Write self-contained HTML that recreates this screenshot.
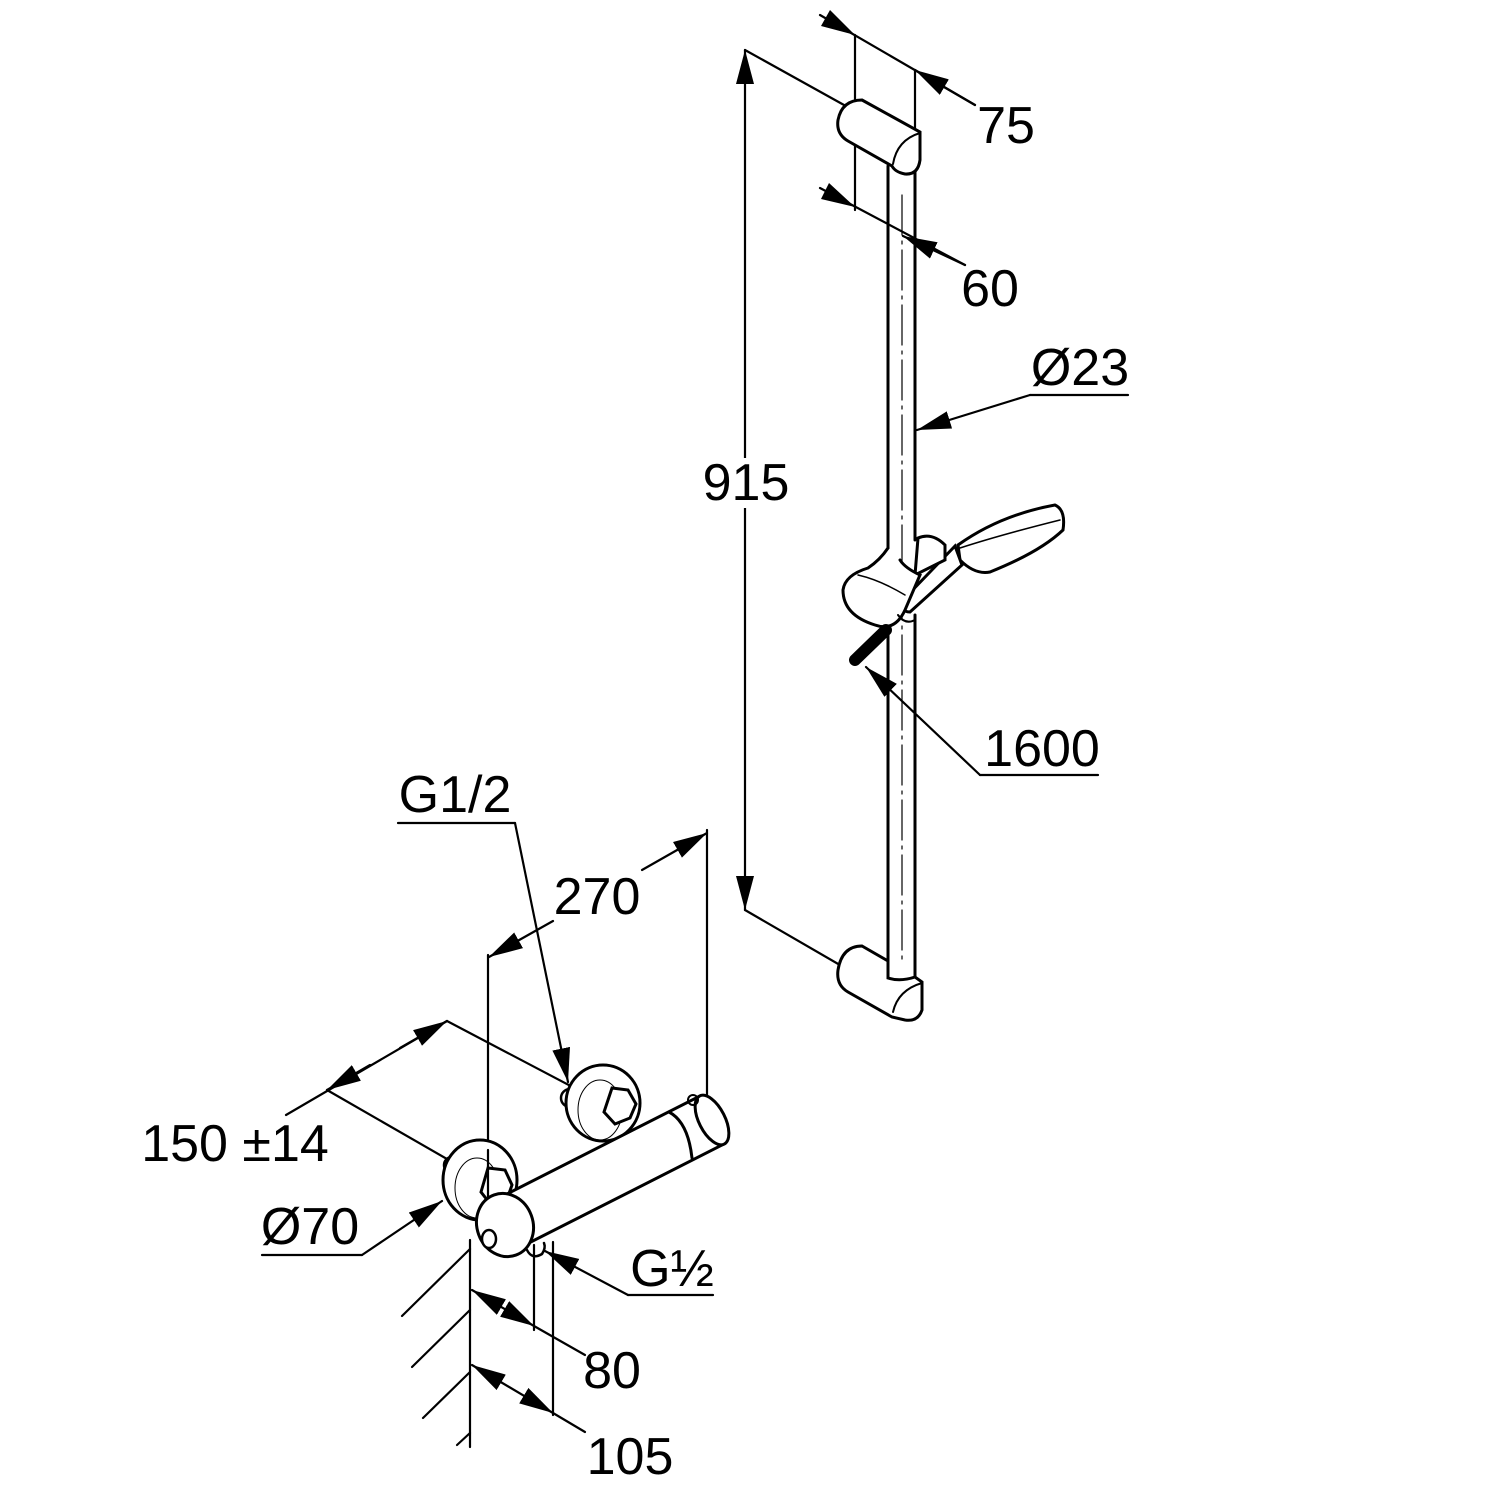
<!DOCTYPE html>
<html><head><meta charset="utf-8"><style>
html,body{margin:0;padding:0;background:#fff;}
svg{display:block;}
text{font-family:"Liberation Sans",Arial,sans-serif;font-size:52px;fill:#000;}
</style></head><body>
<svg width="1500" height="1500" viewBox="0 0 1500 1500" xmlns="http://www.w3.org/2000/svg">
<defs>
<marker id="a" viewBox="0 0 34 18" refX="34" refY="9" markerWidth="34" markerHeight="18" markerUnits="userSpaceOnUse" orient="auto-start-reverse">
<path d="M0,0 L34,9 L0,18 Z" fill="#000"/>
</marker>
</defs>
<g stroke="#000" stroke-width="2.2" fill="none" stroke-linecap="round">
<!-- 915 -->
<line x1="745" y1="50" x2="745" y2="910" marker-start="url(#a)" marker-end="url(#a)"/>
<line x1="745" y1="50" x2="862" y2="115"/>
<line x1="745" y1="910" x2="852" y2="972"/>
<!-- 75 -->
<line x1="855" y1="35" x2="855" y2="210"/>
<line x1="820" y1="15" x2="975" y2="105"/>
<line x1="975" y1="105" x2="915" y2="70" marker-end="url(#a)"/>
<line x1="915" y1="70" x2="915" y2="135"/>
<!-- 60 -->
<line x1="820" y1="188" x2="965" y2="265"/>
<line x1="965" y1="265" x2="903" y2="236" marker-end="url(#a)"/>
<!-- rail -->
<line x1="888" y1="166" x2="888" y2="548" stroke-width="3"/>
<line x1="915" y1="170" x2="915" y2="540" stroke-width="3"/>
<line x1="888" y1="628" x2="888" y2="965" stroke-width="3"/>
<line x1="915" y1="615" x2="915" y2="980" stroke-width="3"/>
<line x1="902" y1="195" x2="902" y2="960" stroke-width="1.2" stroke-dasharray="40,6,3,6"/>
<!-- top bracket -->
<path d="M862,100 L920,132 L920,160 Q918,175 905,174 Q895,172 892,166 L848,141 Q836,134 838,120 Q842,100 862,100 Z" stroke-width="3" fill="#fff"/>
<path d="M920,133 Q897,140 893,164" stroke-width="2"/>
<!-- bottom bracket -->
<path d="M862,946 L888,961 L888,978 Q900,982 915,977 L922,982 L922,1010 Q918,1022 905,1020 L892,1017 L848,992 Q836,985 838,970 Q842,946 862,946 Z" stroke-width="3" fill="#fff"/>
<path d="M922,983 Q898,990 893,1012" stroke-width="2"/>
<!-- Ø23 -->
<line x1="1030" y1="395" x2="917" y2="430" marker-end="url(#a)"/>
<line x1="1030" y1="395" x2="1128" y2="395"/>
<!-- handshower -->
<path d="M958,545 Q1000,515 1055,505 Q1066,510 1063,530 Q1040,552 990,572 Q975,575 960,560 Z" stroke-width="3" fill="#fff"/>
<path d="M960,548 Q1000,535 1060,520" stroke-width="1.5"/>
<path d="M955,546 L903,600 Q900,612 910,612 L962,565 Z" stroke-width="3" fill="#fff"/>
<path d="M918,538 Q932,532 945,545 L945,560 L915,575 Z" stroke-width="3" fill="#fff"/>
<path d="M888,548 Q880,560 868,568 Q845,575 843,590 Q843,615 875,625 Q895,632 905,610 L920,575 Q905,568 900,560" stroke-width="3" fill="#fff"/>
<path d="M858,575 Q880,580 905,595" stroke-width="1.5"/>
<path d="M898,615 Q905,625 915,620" stroke-width="2"/>
<line x1="855" y1="660" x2="886" y2="630" stroke-width="12"/>
<!-- 1600 -->
<line x1="980" y1="775" x2="866" y2="667" marker-end="url(#a)"/>
<line x1="980" y1="775" x2="1098" y2="775"/>
<!-- 270 -->
<line x1="488" y1="955" x2="488" y2="1240"/>
<line x1="707" y1="830" x2="707" y2="1095"/>
<line x1="553" y1="921" x2="489" y2="957" marker-end="url(#a)"/>
<line x1="642" y1="870" x2="707" y2="833" marker-end="url(#a)"/>
<!-- G1/2 -->
<line x1="398" y1="823" x2="515" y2="823"/>
<line x1="515" y1="823" x2="568" y2="1082" marker-end="url(#a)"/>
<!-- 150 -->
<line x1="286" y1="1115" x2="447" y2="1021"/>
<line x1="370" y1="1065" x2="327" y2="1090" marker-end="url(#a)"/>
<line x1="400" y1="1048" x2="447" y2="1021" marker-end="url(#a)"/>
<line x1="327" y1="1090" x2="480" y2="1178"/>
<line x1="447" y1="1021" x2="603" y2="1103"/>
<!-- right wall disc -->
<circle cx="570" cy="1098" r="9" stroke-width="2.5" fill="#fff"/>
<ellipse cx="603" cy="1103" rx="37" ry="38" stroke-width="3" fill="#fff"/>
<ellipse cx="600" cy="1110" rx="22" ry="30" stroke-width="1"/>
<path d="M612,1088 L628,1090 L636,1104 L630,1118 L615,1124 L604,1112 Z" stroke-width="3" fill="#fff"/>
<!-- left wall disc -->
<circle cx="452" cy="1165" r="8" stroke-width="2.5" fill="#fff"/>
<ellipse cx="480" cy="1180" rx="37" ry="40" stroke-width="3" fill="#fff"/>
<ellipse cx="477" cy="1188" rx="22" ry="30" stroke-width="1"/>
<path d="M488,1168 L505,1170 L512,1185 L506,1202 L492,1206 L481,1192 Z" stroke-width="3" fill="#fff"/>
<line x1="488" y1="1150" x2="488" y2="1245"/>
<!-- mixer body (cylinder) -->
<path d="M493,1201 L700,1096 L724,1144 L517,1249 Z" stroke-width="3" fill="#fff"/>
<ellipse cx="712" cy="1120" rx="13" ry="27" transform="rotate(-27 712 1120)" stroke-width="3" fill="#fff"/>
<path d="M669,1112 Q688,1122 692,1158" stroke-width="3"/>
<ellipse cx="505" cy="1225" rx="28" ry="32" transform="rotate(-20 505 1225)" stroke-width="3" fill="#fff"/>
<ellipse cx="489" cy="1239" rx="7" ry="9" stroke-width="2.5" fill="#fff"/>
<circle cx="693" cy="1100" r="5" stroke-width="2"/>
<path d="M527,1250 Q532,1260 542,1254 Q546,1248 544,1243" stroke-width="2.5"/>
<!-- Ø70 -->
<line x1="262" y1="1255" x2="362" y2="1255"/>
<line x1="362" y1="1255" x2="442" y2="1201" marker-end="url(#a)"/>
<!-- G½ -->
<line x1="628" y1="1295" x2="545" y2="1251" marker-end="url(#a)"/>
<line x1="628" y1="1295" x2="713" y2="1295"/>
<!-- wall -->
<line x1="470" y1="1240" x2="470" y2="1447"/>
<line x1="402" y1="1316" x2="470" y2="1249"/>
<line x1="412" y1="1367" x2="470" y2="1310"/>
<line x1="423" y1="1418" x2="470" y2="1372"/>
<line x1="457" y1="1445" x2="470" y2="1433"/>
<!-- 80 -->
<line x1="534" y1="1245" x2="534" y2="1330"/>
<line x1="472" y1="1290" x2="534" y2="1326" marker-start="url(#a)" marker-end="url(#a)"/>
<line x1="534" y1="1326" x2="585" y2="1355"/>
<!-- 105 -->
<line x1="553" y1="1242" x2="553" y2="1415"/>
<line x1="472" y1="1365" x2="553" y2="1413" marker-start="url(#a)" marker-end="url(#a)"/>
<line x1="553" y1="1413" x2="585" y2="1432"/>
</g>
<polygon points="855,35 821,26 830,10" fill="#000"/>
<polygon points="855,207 821,199 829,183" fill="#000"/>
<rect x="700" y="458" width="92" height="50" fill="#fff"/>
<text x="1006" y="143" text-anchor="middle">75</text>
<text x="990" y="306" text-anchor="middle">60</text>
<text x="1080" y="385" text-anchor="middle">Ø23</text>
<text x="746" y="500" text-anchor="middle">915</text>
<text x="1042" y="766" text-anchor="middle">1600</text>
<text x="455" y="812" text-anchor="middle">G1/2</text>
<text x="597" y="914" text-anchor="middle">270</text>
<text x="235" y="1161" text-anchor="middle">150 ±14</text>
<text x="310" y="1244" text-anchor="middle">Ø70</text>
<text x="672" y="1286" text-anchor="middle">G½</text>
<text x="612" y="1388" text-anchor="middle">80</text>
<text x="630" y="1474" text-anchor="middle">105</text>
</svg>
</body></html>
